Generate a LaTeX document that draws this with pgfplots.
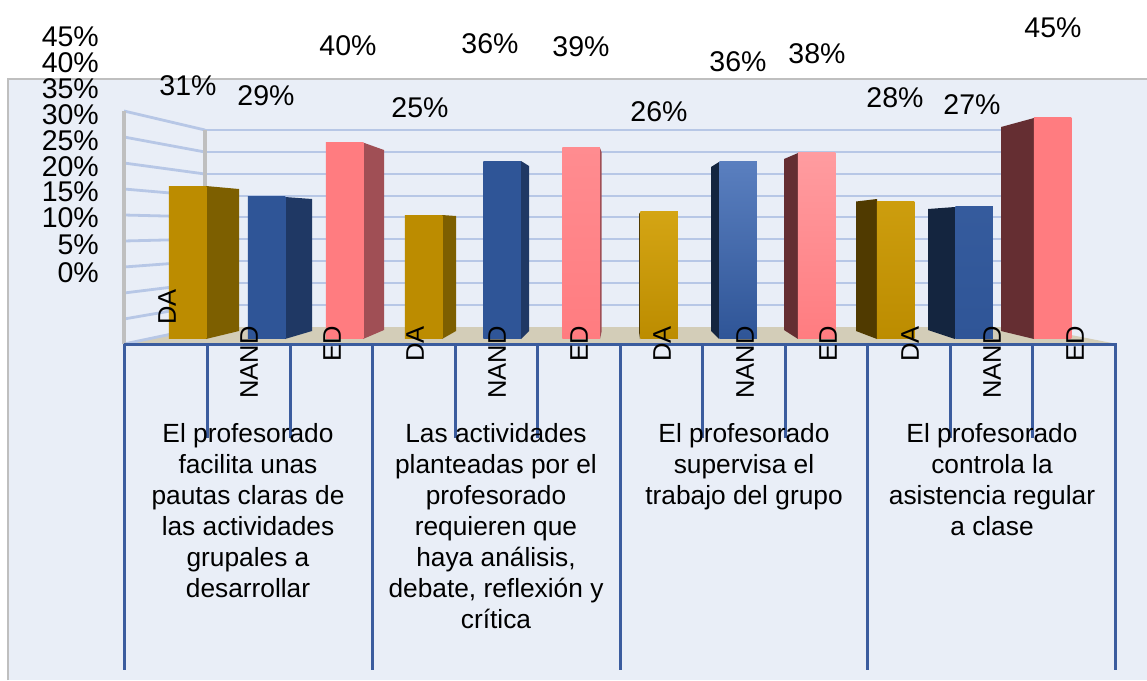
\documentclass[border=0pt]{standalone}
\usepackage{pgfplots}
\pgfplotsset{compat=1.18}
\usepackage{fontspec}
\setmainfont{Liberation Sans}
\definecolor{panel}{HTML}{E9EEF7}
\definecolor{frameg}{HTML}{BFBFBF}
\definecolor{grid}{HTML}{B7C7E6}
\definecolor{floorc}{HTML}{D3CDB8}
\definecolor{tickb}{HTML}{3B5C9E}
\definecolor{gold}{HTML}{BC8C00}
\definecolor{goldhi}{HTML}{D4A514}
\definecolor{goldside}{HTML}{7D5F00}
\definecolor{goldsided}{HTML}{503A00}
\definecolor{blue}{HTML}{2F5597}
\definecolor{bluehi}{HTML}{5A7FBF}
\definecolor{blueside}{HTML}{1F3864}
\definecolor{bluesided}{HTML}{14253F}
\definecolor{pink}{HTML}{FF7C80}
\definecolor{pinkhi}{HTML}{FF9CA0}
\definecolor{pinkside}{HTML}{A04F55}
\definecolor{pinksided}{HTML}{652E32}
\pgfplotsset{
  canvas/.style={hide axis, scale only axis, width=1147pt, height=680pt, xmin=0, xmax=1147, clip=true},
  px/.style={canvas, ymin=0, ymax=680, y dir=reverse},
  gl/.style={draw=grid, line width=2.8pt},
  tk/.style={draw=tickb, line width=3pt},
  wall/.style={draw=frameg, line width=4pt},
  side/.style={fill=#1, draw=none},
  fr/.style n args={2}{ybar, bar width=37.5, bar shift=0pt, draw=none, top color=#1, bottom color=#2},
}
\newcommand{\ylab}{\fontsize{28.5}{30}\selectfont}
\newcommand{\clab}{\fontsize{26.3}{31}\selectfont}
\newcommand{\rlab}{\fontsize{25.5}{28}\selectfont}
\begin{document}
\begin{tikzpicture}
% back layer: panel, walls, floor, side faces
\begin{axis}[px]
\addplot[fill=white, draw=none] coordinates {(0,0)(1147,0)(1147,680)(0,680)} -- cycle;
\addplot[fill=panel, draw=none] coordinates {(8,79)(1147,79)(1147,680)(8,680)} -- cycle;
\addplot[draw=frameg, line width=2.8pt] coordinates {(8,680)(8,79)(1147,79)};
% floor
\addplot[fill=floorc, draw=none] coordinates {(124,344)(205,327)(1030,327)(1117,344)} -- cycle;
% back wall grid
\addplot[gl] coordinates {(205,130)(1030,130)};
\addplot[gl] coordinates {(205,152)(1030,152)};
\addplot[gl] coordinates {(205,174)(1030,174)};
\addplot[gl] coordinates {(205,196)(1030,196)};
\addplot[gl] coordinates {(205,217)(1030,217)};
\addplot[gl] coordinates {(205,239)(1030,239)};
\addplot[gl] coordinates {(205,261)(1030,261)};
\addplot[gl] coordinates {(205,283)(1030,283)};
\addplot[gl] coordinates {(205,305)(1030,305)};
% side wall grid
\addplot[gl] coordinates {(124,111)(205,130)};
\addplot[gl] coordinates {(124,137)(205,152)};
\addplot[gl] coordinates {(124,163)(205,174)};
\addplot[gl] coordinates {(124,189)(205,196)};
\addplot[gl] coordinates {(124,215)(205,217)};
\addplot[gl] coordinates {(124,241)(205,239)};
\addplot[gl] coordinates {(124,267)(205,261)};
\addplot[gl] coordinates {(124,293)(205,283)};
\addplot[gl] coordinates {(124,319)(205,305)};
\addplot[gl] coordinates {(124,344)(205,327)};
\addplot[wall] coordinates {(124,111)(124,344)};
\addplot[wall] coordinates {(205,130)(205,327)};
% side faces
\addplot[side=goldside] coordinates {(206,186)(239,189)(239,331)(206,339)} -- cycle;
\addplot[side=blueside] coordinates {(285,197)(312,199)(312,331)(285,339)} -- cycle;
\addplot[side=pinkside] coordinates {(363,142.5)(384,150)(384,330)(363,339)} -- cycle;
\addplot[side=goldside] coordinates {(442,215)(456,216)(456,331)(442,339)} -- cycle;
\addplot[side=blueside] coordinates {(521,161)(529,166)(529,331)(521,339)} -- cycle;
\addplot[side=pinkside] coordinates {(600,148)(601.5,152)(601.5,332)(600,339)} -- cycle;
\addplot[side=goldsided] coordinates {(640,212.5)(639,214)(639,332)(640,339)} -- cycle;
\addplot[side=bluesided] coordinates {(719,162)(711,167)(711,331)(719,339)} -- cycle;
\addplot[side=pinksided] coordinates {(798,153)(784,159)(784,330)(798,339)} -- cycle;
\addplot[side=goldsided] coordinates {(877,199)(856,201.5)(856,331)(877,339)} -- cycle;
\addplot[side=bluesided] coordinates {(955,207)(928,209)(928,330)(955,339)} -- cycle;
\addplot[side=pinksided] coordinates {(1034,118)(1001,127)(1001,331)(1034,339)} -- cycle;
% category axis
\addplot[tk] coordinates {(124,344)(1117,344)};
\addplot[tk] coordinates {(124,344)(124,670)};
\addplot[tk] coordinates {(372,344)(372,670)};
\addplot[tk] coordinates {(620,344)(620,670)};
\addplot[tk] coordinates {(867,344)(867,670)};
\addplot[tk] coordinates {(1115,344)(1115,670)};
\addplot[tk] coordinates {(207,344)(207,438)};
\addplot[tk] coordinates {(290,344)(290,438)};
\addplot[tk] coordinates {(455,344)(455,438)};
\addplot[tk] coordinates {(537,344)(537,438)};
\addplot[tk] coordinates {(702,344)(702,438)};
\addplot[tk] coordinates {(785,344)(785,438)};
\addplot[tk] coordinates {(950,344)(950,438)};
\addplot[tk] coordinates {(1032,344)(1032,438)};
\end{axis}
% front faces: value in percent
\begin{axis}[canvas, ymin=-69.31, ymax=68.90]
\addplot[fr={gold}{gold}] coordinates {(187.5,31)};
\addplot[fr={blue}{blue}] coordinates {(266.5,29)};
\addplot[fr={pink}{pink}] coordinates {(344.5,40)};
\addplot[fr={gold}{gold}] coordinates {(423.5,25)};
\addplot[fr={blue}{blue}] coordinates {(502,36)};
\addplot[fr={pinkhi!50!pink}{pink}] coordinates {(581,39)};
\addplot[fr={goldhi}{gold}] coordinates {(659,26)};
\addplot[fr={bluehi}{blue}] coordinates {(738,36)};
\addplot[fr={pinkhi}{pink}] coordinates {(816.5,38)};
\addplot[fr={goldhi!70!gold}{gold}] coordinates {(895.5,28)};
\addplot[fr={blue!85!bluehi}{blue}] coordinates {(974,27)};
\addplot[fr={pink}{pink}] coordinates {(1052.5,45)};
\end{axis}
% text layer
\begin{axis}[px]
\node[anchor=base east, inner sep=0pt, font=\ylab] at (axis cs:99,46) {45\%};
\node[anchor=base east, inner sep=0pt, font=\ylab] at (axis cs:99,72) {40\%};
\node[anchor=base east, inner sep=0pt, font=\ylab] at (axis cs:99,98) {35\%};
\node[anchor=base east, inner sep=0pt, font=\ylab] at (axis cs:99,124) {30\%};
\node[anchor=base east, inner sep=0pt, font=\ylab] at (axis cs:99,150) {25\%};
\node[anchor=base east, inner sep=0pt, font=\ylab] at (axis cs:99,176) {20\%};
\node[anchor=base east, inner sep=0pt, font=\ylab] at (axis cs:99,201) {15\%};
\node[anchor=base east, inner sep=0pt, font=\ylab] at (axis cs:99,227) {10\%};
\node[anchor=base east, inner sep=0pt, font=\ylab] at (axis cs:99,254) {5\%};
\node[anchor=base east, inner sep=0pt, font=\ylab] at (axis cs:99,282) {0\%};
% data labels
\node[anchor=base, inner sep=0pt, font=\ylab] at (axis cs:188,95.5) {31\%};
\node[anchor=base, inner sep=0pt, font=\ylab] at (axis cs:266,105.5) {29\%};
\node[anchor=base, inner sep=0pt, font=\ylab] at (axis cs:348,55.5) {40\%};
\node[anchor=base, inner sep=0pt, font=\ylab] at (axis cs:420,117.5) {25\%};
\node[anchor=base, inner sep=0pt, font=\ylab] at (axis cs:490,53.5) {36\%};
\node[anchor=base, inner sep=0pt, font=\ylab] at (axis cs:581,56.5) {39\%};
\node[anchor=base, inner sep=0pt, font=\ylab] at (axis cs:659,121.5) {26\%};
\node[anchor=base, inner sep=0pt, font=\ylab] at (axis cs:738,71) {36\%};
\node[anchor=base, inner sep=0pt, font=\ylab] at (axis cs:817,63.5) {38\%};
\node[anchor=base, inner sep=0pt, font=\ylab] at (axis cs:895,107.5) {28\%};
\node[anchor=base, inner sep=0pt, font=\ylab] at (axis cs:972,114.5) {27\%};
\node[anchor=base, inner sep=0pt, font=\ylab] at (axis cs:1053,37.5) {45\%};
% rotated series names
\node[rotate=90, anchor=east, inner sep=0pt, font=\rlab] at (axis cs:167,289) {DA};
\node[rotate=90, anchor=east, inner sep=0pt, font=\rlab] at (axis cs:249,326) {NAND};
\node[rotate=90, anchor=east, inner sep=0pt, font=\rlab] at (axis cs:332,326) {ED};
\node[rotate=90, anchor=east, inner sep=0pt, font=\rlab] at (axis cs:415,326) {DA};
\node[rotate=90, anchor=east, inner sep=0pt, font=\rlab] at (axis cs:497,326) {NAND};
\node[rotate=90, anchor=east, inner sep=0pt, font=\rlab] at (axis cs:579,326) {ED};
\node[rotate=90, anchor=east, inner sep=0pt, font=\rlab] at (axis cs:662,326) {DA};
\node[rotate=90, anchor=east, inner sep=0pt, font=\rlab] at (axis cs:745,326) {NAND};
\node[rotate=90, anchor=east, inner sep=0pt, font=\rlab] at (axis cs:828,326) {ED};
\node[rotate=90, anchor=east, inner sep=0pt, font=\rlab] at (axis cs:910,326) {DA};
\node[rotate=90, anchor=east, inner sep=0pt, font=\rlab] at (axis cs:992,326) {NAND};
\node[rotate=90, anchor=east, inner sep=0pt, font=\rlab] at (axis cs:1075,326) {ED};
% categories
\node[anchor=north, align=center, inner sep=0pt, font=\clab] at (axis cs:248,423) {El profesorado\\facilita unas\\pautas claras de\\las actividades\\grupales a\\desarrollar};
\node[anchor=north, align=center, inner sep=0pt, font=\clab] at (axis cs:496,423) {Las actividades\\planteadas por el\\profesorado\\requieren que\\haya análisis,\\debate, reflexión y\\crítica};
\node[anchor=north, align=center, inner sep=0pt, font=\clab] at (axis cs:744,423) {El profesorado\\supervisa el\\trabajo del grupo};
\node[anchor=north, align=center, inner sep=0pt, font=\clab] at (axis cs:992,423) {El profesorado\\controla la\\asistencia regular\\a clase};
\end{axis}
\end{tikzpicture}
\end{document}
